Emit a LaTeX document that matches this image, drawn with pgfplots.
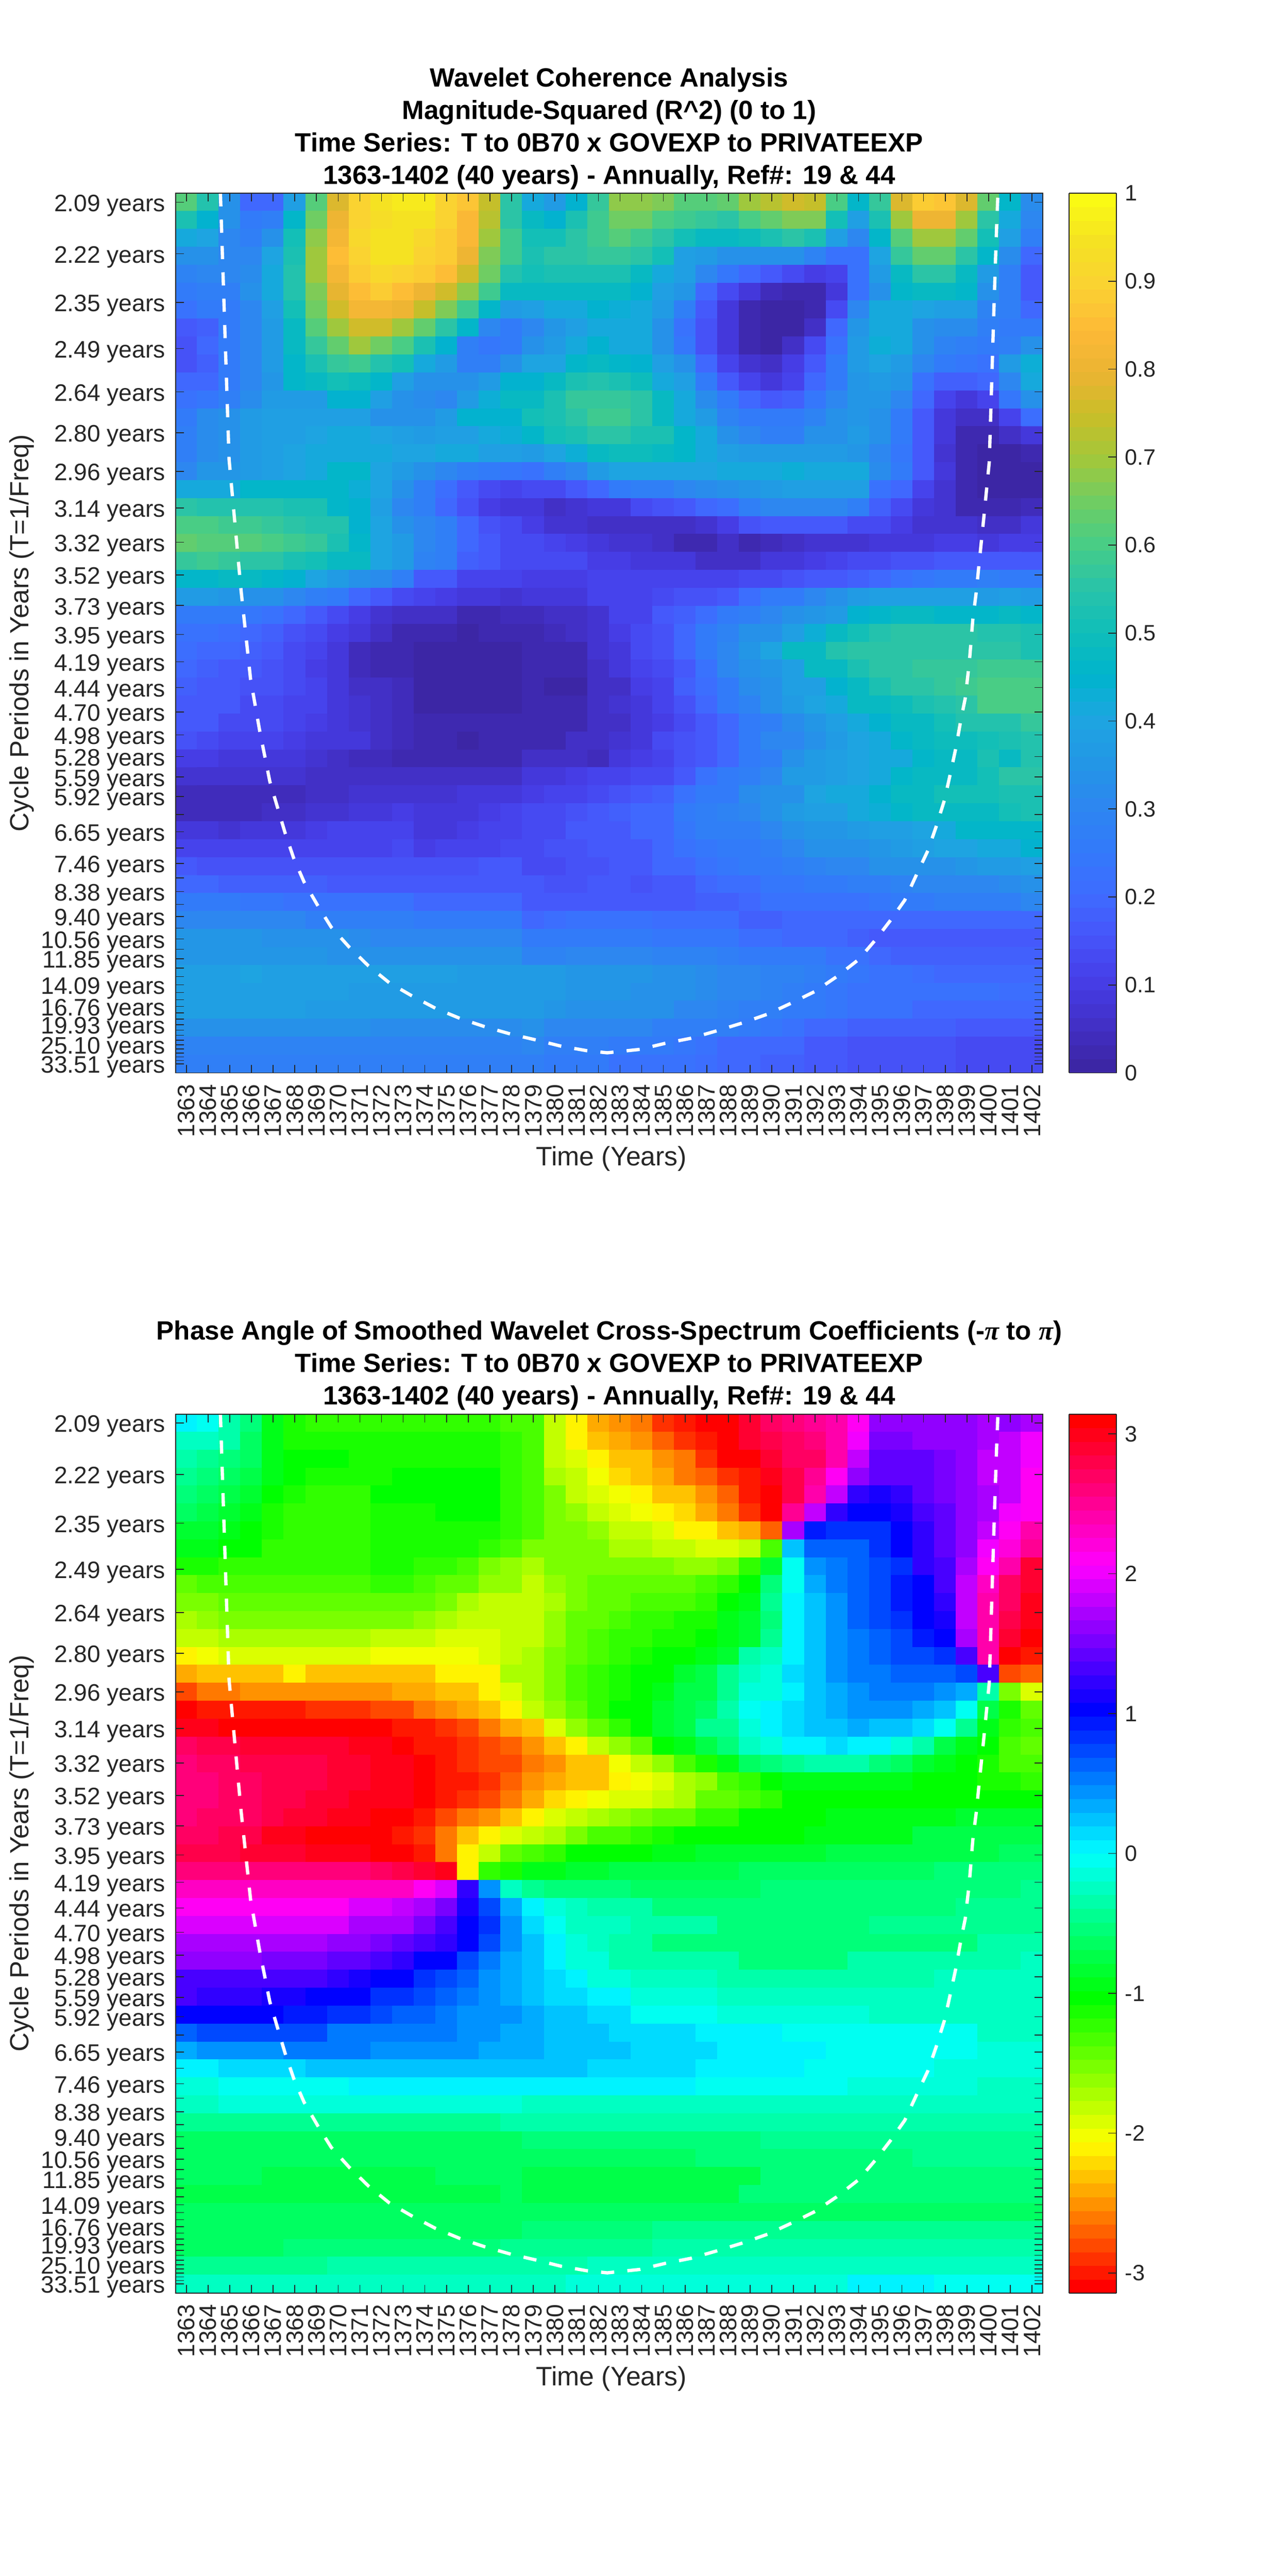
\documentclass[border=0pt]{standalone}
\usepackage{pgfplots}
\pgfplotsset{compat=1.18}
\usepackage{fontspec}
\setmainfont{Liberation Sans}
\newfontfamily\pifont{Liberation Serif}
\definecolor{axc}{RGB}{38,38,38}
\newcount\Rc \newcount\Rr
\def\coords{}
\def\Rput#1{\ifnum\Rc<40 \xdef\coords{\coords (\the\Rc,\the\Rr) [#1]}\gdef\Rlast{#1}\global\advance\Rc by 1 \fi}
\def\Rx#1 {\ifx @#1\else\Rput{#1}\expandafter\Rx\fi}
\def\Rfill{\ifnum\Rc<40 \Rput{\Rlast}\expandafter\Rfill\fi}
\def\R#1{\global\Rc=0 \Rx#1 @ \Rfill\global\advance\Rr by 1\relax}
% --- Magnitude-squared coherence, 49 rows x 40 years
\R{.62 .54 .33 .2 .2 .38 .62 .78 .9 .95 .96 .96 .9 .87 .74 .56 .42 .37 .45 .57 .68 .68 .66 .62 .62 .64 .69 .73 .75 .74 .6 .46 .57 .77 .88 .86 .78 .63 .46 .32}
\R{.53 .45 .33 .25 .27 .46 .65 .81 .9 .93 .95 .94 .9 .83 .72 .56 .47 .45 .53 .58 .65 .65 .6 .59 .57 .56 .6 .63 .67 .66 .51 .39 .52 .7 .8 .8 .7 .56 .42 .3}
\R{.41 .4 .3 .27 .33 .51 .68 .82 .92 .94 .94 .92 .89 .83 .69 .58 .5 .5 .55 .59 .61 .59 .55 .51 .47 .47 .49 .52 .55 .52 .38 .31 .46 .62 .7 .7 .63 .5 .39 .27}
\R{.33 .33 .3 .3 .4 .53 .7 .85 .9 .94 .94 .9 .88 .8 .67 .58 .53 .55 .56 .57 .57 .55 .5 .39 .37 .33 .33 .33 .33 .29 .22 .22 .4 .57 .63 .63 .56 .46 .32 .2}
\R{.29 .3 .3 .32 .41 .54 .7 .82 .89 .92 .9 .89 .85 .75 .65 .54 .5 .52 .52 .52 .52 .47 .41 .38 .3 .24 .2 .17 .13 .1 .12 .22 .37 .48 .56 .56 .47 .37 .28 .17}
\R{.25 .28 .28 .33 .41 .54 .67 .79 .85 .88 .85 .8 .75 .68 .58 .47 .47 .47 .47 .47 .47 .44 .38 .35 .2 .14 .08 .04 .03 .03 .08 .22 .33 .46 .47 .47 .46 .33 .27 .17}
\R{.22 .25 .26 .31 .39 .51 .65 .76 .82 .82 .8 .74 .66 .59 .46 .36 .39 .42 .42 .44 .43 .41 .36 .27 .17 .09 .03 0 0 .03 .14 .3 .42 .42 .4 .38 .38 .29 .27 .2}
\R{.16 .18 .25 .3 .37 .48 .62 .7 .75 .75 .7 .64 .56 .46 .3 .26 .3 .35 .38 .41 .42 .41 .34 .22 .15 .09 .02 0 .01 .06 .2 .35 .42 .42 .33 .32 .32 .28 .25 .25}
\R{.15 .2 .25 .3 .36 .47 .57 .63 .69 .65 .6 .53 .44 .28 .24 .25 .33 .36 .42 .44 .42 .41 .34 .24 .15 .08 .03 .01 .06 .14 .22 .36 .43 .42 .34 .29 .27 .26 .27 .34}
\R{.15 .18 .26 .3 .36 .46 .53 .57 .58 .54 .5 .42 .36 .28 .27 .33 .4 .4 .46 .47 .46 .45 .38 .34 .2 .11 .07 .05 .1 .17 .25 .37 .4 .37 .3 .25 .24 .23 .36 .43}
\R{.19 .2 .26 .3 .35 .46 .47 .51 .49 .46 .38 .34 .33 .33 .37 .44 .44 .47 .53 .54 .52 .49 .42 .38 .26 .17 .11 .09 .12 .2 .26 .35 .37 .35 .23 .18 .18 .19 .31 .42}
\R{.22 .24 .28 .32 .37 .37 .37 .45 .45 .38 .34 .32 .3 .37 .43 .47 .48 .53 .57 .57 .57 .55 .47 .41 .32 .25 .19 .16 .18 .24 .3 .35 .35 .3 .19 .12 .08 .11 .24 .34}
\R{.26 .32 .33 .37 .38 .38 .39 .39 .38 .34 .34 .34 .36 .44 .45 .45 .5 .53 .56 .58 .58 .55 .48 .42 .36 .29 .25 .25 .25 .29 .33 .35 .33 .26 .17 .09 .05 .05 .11 .21}
\R{.27 .32 .33 .37 .39 .39 .4 .42 .41 .4 .38 .36 .38 .38 .42 .43 .46 .5 .53 .55 .55 .53 .52 .46 .42 .34 .31 .28 .28 .33 .33 .36 .33 .26 .16 .09 .03 .02 .05 .09}
\R{.27 .32 .34 .36 .38 .4 .41 .42 .41 .41 .4 .4 .41 .41 .38 .38 .37 .4 .43 .47 .49 .49 .47 .46 .41 .38 .36 .36 .36 .37 .37 .35 .31 .24 .16 .07 .03 .01 0 .02}
\R{.3 .35 .35 .37 .38 .4 .42 .46 .46 .4 .37 .34 .31 .27 .25 .24 .23 .27 .3 .36 .4 .4 .4 .4 .4 .41 .42 .42 .43 .42 .42 .41 .32 .25 .16 .08 .03 0 0 0}
\R{.42 .42 .42 .46 .46 .46 .46 .46 .43 .4 .34 .27 .21 .17 .14 .12 .14 .14 .17 .2 .25 .27 .28 .3 .32 .34 .35 .36 .38 .39 .39 .38 .23 .2 .12 .07 .03 0 0 0}
\R{.56 .54 .54 .54 .54 .53 .53 .46 .45 .39 .3 .27 .2 .15 .1 .08 .08 .05 .07 .08 .09 .13 .15 .17 .2 .21 .27 .3 .31 .31 .3 .27 .18 .13 .09 .07 .03 .03 .03 .04}
\R{.6 .6 .58 .58 .57 .56 .54 .54 .45 .4 .33 .31 .28 .2 .15 .13 .1 .07 .07 .06 .05 .05 .05 .05 .07 .1 .15 .17 .17 .17 .16 .13 .13 .1 .07 .07 .07 .06 .05 .08}
\R{.64 .62 .61 .62 .6 .58 .57 .53 .46 .4 .37 .31 .28 .19 .17 .14 .14 .12 .1 .08 .07 .07 .05 .02 .02 .05 .03 .04 .06 .07 .07 .07 .09 .09 .09 .1 .1 .09 .1 .1}
\R{.57 .58 .57 .56 .55 .52 .5 .47 .47 .4 .36 .29 .27 .18 .17 .14 .14 .13 .13 .1 .1 .09 .09 .08 .06 .06 .06 .08 .09 .1 .11 .13 .14 .15 .15 .16 .17 .17 .17 .17}
\R{.46 .46 .47 .47 .46 .45 .4 .37 .34 .32 .27 .17 .17 .12 .11 .11 .1 .1 .1 .12 .12 .12 .12 .12 .12 .12 .13 .14 .15 .16 .17 .18 .2 .22 .24 .25 .26 .27 .26 .25}
\R{.36 .36 .35 .33 .33 .3 .28 .26 .2 .16 .13 .11 .1 .09 .09 .07 .09 .09 .09 .11 .11 .12 .13 .15 .15 .17 .21 .25 .26 .3 .33 .37 .38 .38 .38 .38 .38 .37 .39 .37}
\R{.26 .26 .25 .24 .22 .2 .16 .13 .1 .07 .06 .05 .05 .03 .03 .04 .04 .06 .05 .07 .11 .12 .16 .18 .21 .25 .28 .3 .34 .35 .36 .44 .46 .47 .47 .46 .46 .46 .47 .46}
\R{.22 .22 .21 .2 .18 .15 .13 .1 .08 .05 .03 .02 .02 .01 .02 .02 .03 .04 .06 .07 .1 .13 .15 .19 .25 .29 .33 .34 .38 .43 .48 .51 .54 .55 .55 .55 .55 .54 .54 .53}
\R{.21 .2 .19 .18 .16 .13 .11 .09 .04 .03 .03 0 0 0 0 0 .02 .03 .03 .07 .09 .13 .15 .19 .25 .3 .35 .4 .47 .48 .54 .56 .56 .56 .56 .56 .56 .56 .56 .52}
\R{.19 .18 .17 .16 .15 .13 .1 .09 .04 .03 .03 0 0 0 0 0 .02 .03 .03 .06 .08 .11 .14 .17 .23 .3 .33 .35 .39 .47 .47 .52 .56 .56 .57 .57 .57 .58 .58 .58}
\R{.18 .17 .16 .15 .15 .14 .11 .09 .06 .05 .04 .01 0 0 0 0 .02 .01 .01 .06 .06 .1 .11 .18 .21 .25 .32 .34 .38 .39 .45 .48 .53 .55 .56 .57 .58 .6 .6 .6}
\R{.17 .17 .16 .14 .13 .12 .11 .09 .07 .05 .04 .01 .01 .01 0 .01 .02 .03 .03 .06 .07 .09 .12 .15 .2 .25 .29 .33 .36 .4 .42 .47 .47 .49 .52 .54 .56 .6 .6 .6}
\R{.17 .16 .14 .14 .13 .12 .1 .08 .07 .05 .04 .03 .02 .02 .02 .02 .02 .03 .03 .05 .06 .08 .1 .13 .17 .2 .25 .28 .32 .35 .39 .41 .45 .47 .47 .5 .54 .54 .54 .57}
\R{.15 .14 .12 .11 .11 .1 .09 .08 .08 .05 .04 .03 .03 .01 .02 .02 .02 .03 .05 .06 .07 .08 .13 .15 .17 .2 .26 .3 .3 .34 .37 .4 .42 .46 .48 .49 .49 .51 .53 .54}
\R{.1 .1 .09 .08 .08 .08 .07 .06 .04 .04 .03 .03 .03 .03 .03 .03 .05 .06 .05 .04 .09 .1 .12 .15 .17 .2 .26 .28 .34 .36 .38 .4 .42 .42 .46 .48 .48 .52 .48 .54}
\R{.07 .07 .07 .07 .07 .07 .06 .05 .05 .06 .06 .06 .06 .05 .06 .06 .08 .09 .1 .11 .12 .13 .14 .17 .22 .25 .28 .3 .36 .36 .38 .4 .42 .46 .47 .47 .47 .5 .55 .55}
\R{.04 .04 .04 .04 .04 .04 .06 .06 .07 .07 .07 .07 .07 .08 .09 .09 .1 .11 .12 .13 .15 .17 .18 .22 .25 .25 .32 .33 .33 .4 .42 .42 .45 .47 .47 .5 .5 .5 .52 .53}
\R{.04 .04 .04 .04 .05 .06 .07 .07 .08 .09 .1 .09 .09 .09 .1 .12 .13 .13 .15 .16 .18 .2 .2 .25 .28 .29 .31 .33 .37 .38 .38 .41 .43 .46 .47 .47 .48 .48 .5 .53}
\R{.08 .08 .07 .09 .09 .09 .1 .11 .12 .12 .12 .09 .09 .1 .11 .12 .13 .14 .16 .17 .17 .19 .2 .24 .27 .27 .28 .3 .33 .35 .35 .37 .38 .38 .4 .42 .46 .46 .46 .46}
\R{.11 .11 .11 .11 .11 .11 .12 .12 .12 .12 .13 .1 .11 .12 .12 .13 .13 .15 .15 .17 .17 .17 .2 .22 .24 .25 .26 .27 .31 .33 .33 .34 .35 .36 .38 .4 .4 .41 .42 .45}
\R{.17 .15 .15 .15 .15 .15 .15 .15 .15 .15 .15 .15 .15 .15 .16 .16 .13 .14 .15 .15 .17 .17 .19 .2 .23 .24 .25 .26 .27 .29 .3 .31 .33 .33 .34 .34 .35 .37 .37 .39}
\R{.2 .2 .18 .18 .18 .18 .18 .17 .17 .16 .16 .16 .16 .16 .16 .16 .17 .15 .15 .16 .16 .15 .16 .17 .2 .21 .21 .24 .24 .26 .26 .27 .27 .29 .3 .3 .31 .31 .32 .33}
\R{.25 .25 .25 .24 .24 .23 .22 .22 .22 .22 .22 .2 .2 .2 .2 .2 .17 .16 .16 .16 .17 .17 .17 .17 .18 .18 .2 .22 .22 .22 .23 .23 .24 .25 .26 .27 .27 .27 .28 .3}
\R{.3 .3 .3 .3 .3 .3 .28 .28 .28 .27 .27 .26 .26 .26 .26 .25 .2 .21 .22 .22 .22 .22 .21 .21 .21 .21 .18 .18 .19 .19 .19 .2 .2 .2 .2 .2 .2 .2 .2 .2}
\R{.35 .35 .35 .35 .34 .34 .33 .33 .32 .3 .3 .3 .3 .3 .3 .3 .25 .25 .26 .26 .26 .25 .24 .24 .24 .24 .21 .21 .2 .2 .19 .18 .17 .17 .17 .17 .17 .17 .17 .17}
\R{.35 .35 .35 .35 .35 .35 .35 .34 .34 .33 .33 .33 .33 .33 .33 .33 .29 .29 .3 .3 .3 .3 .29 .29 .29 .27 .26 .25 .25 .25 .23 .22 .19 .18 .18 .18 .18 .18 .18 .18}
\R{.39 .39 .39 .4 .39 .39 .39 .39 .38 .38 .38 .38 .38 .37 .37 .37 .37 .36 .35 .35 .35 .35 .33 .33 .32 .3 .3 .29 .29 .27 .25 .24 .22 .22 .21 .2 .19 .19 .19 .19}
\R{.38 .38 .38 .38 .38 .38 .38 .38 .37 .37 .37 .37 .37 .37 .37 .37 .37 .36 .35 .35 .35 .34 .33 .33 .32 .3 .3 .29 .27 .25 .24 .23 .23 .23 .23 .22 .22 .22 .21 .21}
\R{.38 .38 .38 .38 .38 .38 .37 .37 .37 .37 .37 .37 .37 .37 .37 .37 .37 .35 .34 .34 .34 .33 .33 .3 .3 .29 .28 .27 .26 .25 .24 .23 .22 .22 .2 .2 .2 .2 .19 .19}
\R{.33 .33 .33 .33 .33 .33 .33 .33 .33 .32 .32 .32 .32 .32 .32 .32 .33 .31 .31 .31 .3 .3 .28 .28 .28 .27 .26 .24 .23 .2 .2 .18 .18 .18 .18 .18 .17 .17 .17 .17}
\R{.29 .29 .29 .29 .29 .29 .29 .29 .29 .29 .29 .29 .29 .29 .29 .29 .3 .28 .27 .27 .26 .26 .25 .24 .22 .2 .2 .19 .19 .17 .16 .15 .15 .15 .15 .15 .14 .13 .13 .13}
\R{.27 .27 .27 .27 .27 .27 .27 .27 .27 .27 .27 .27 .27 .27 .27 .27 .27 .26 .25 .25 .23 .23 .22 .22 .21 .2 .19 .18 .18 .17 .16 .15 .15 .15 .15 .15 .14 .14 .14 .14}
\global\let\coordsA\coords
\gdef\coords{}\global\Rr=0
% --- Phase angle, 49 rows x 40 years
\R{0 -.05 -.3 -.5 -.9 -1.1 -1.2 -1.2 -1.2 -1.2 -1.2 -1.2 -1.2 -1.2 -1.2 -1.3 -1.35 -1.85 -2.15 -2.42 -2.55 -2.65 -2.85 -2.95 -3.14 3.05 2.85 2.72 2.62 2.55 2.45 2.1 1.65 1.58 1.58 1.58 1.65 1.68 1.65 1.7}
\R{-.2 -.25 -.3 -.6 -.9 -1.1 -1.15 -1.12 -1.12 -1.12 -1.12 -1.12 -1.12 -1.12 -1.12 -1.2 -1.35 -1.85 -2.1 -2.3 -2.45 -2.55 -2.68 -2.85 -2.98 3.14 2.9 2.8 2.65 2.6 2.42 2 1.55 1.5 1.58 1.58 1.65 1.72 1.8 2}
\R{-.35 -.4 -.5 -.6 -.9 -1 -1.05 -1.05 -1.1 -1.1 -1.1 -1.1 -1.1 -1.1 -1.1 -1.2 -1.35 -1.8 -1.95 -2.15 -2.28 -2.35 -2.55 -2.65 -2.85 -3.05 3.05 2.9 2.7 2.68 2.4 1.85 1.45 1.45 1.45 1.52 1.6 1.78 1.85 2}
\R{-.45 -.5 -.6 -.75 -.95 -1.05 -1.1 -1.15 -1.15 -1.1 -1.05 -1.05 -1.05 -1.05 -1.05 -1.2 -1.35 -1.7 -1.85 -1.97 -2.18 -2.28 -2.4 -2.6 -2.7 -2.85 -3 2.95 2.75 2.55 2.1 1.65 1.4 1.4 1.4 1.52 1.6 1.78 1.85 2.1}
\R{-.55 -.65 -.7 -.85 -1.05 -1.15 -1.2 -1.2 -1.2 -1.05 -1.05 -1.05 -1.05 -1.05 -1.05 -1.2 -1.35 -1.55 -1.8 -1.9 -2 -2.1 -2.28 -2.35 -2.55 -2.72 -2.95 3.1 2.8 2.4 1.85 1.25 1.15 1.25 1.4 1.52 1.6 1.75 1.85 2.1}
\R{-.6 -.75 -.85 -.95 -1.15 -1.2 -1.2 -1.2 -1.2 -1.15 -1.1 -1.1 -1.05 -1.05 -1.08 -1.25 -1.3 -1.5 -1.65 -1.8 -1.9 -2 -2.1 -2.25 -2.4 -2.6 -2.85 -3.14 2.5 1.8 1.2 1.05 1.05 1.15 1.35 1.45 1.62 1.75 2 2.1}
\R{-.8 -.85 -.9 -1 -1.15 -1.2 -1.2 -1.2 -1.2 -1.15 -1.1 -1.1 -1.1 -1.1 -1.12 -1.25 -1.35 -1.55 -1.55 -1.65 -1.8 -1.85 -1.95 -2.08 -2.15 -2.3 -2.4 -2.7 1.7 .9 .8 .8 .85 1 1.25 1.45 1.62 1.85 2.1 2.4}
\R{-.95 -.95 -1 -1.05 -1.2 -1.2 -1.2 -1.2 -1.2 -1.1 -1.1 -1.1 -1.1 -1.12 -1.2 -1.35 -1.55 -1.55 -1.55 -1.55 -1.7 -1.7 -1.8 -1.85 -1.88 -1.88 -1.8 -1.3 .2 .6 .65 .65 .85 1 1.2 1.45 1.65 2 2.2 2.5}
\R{-1.15 -1.1 -1.25 -1.25 -1.25 -1.25 -1.25 -1.25 -1.25 -1.15 -1.15 -1.18 -1.25 -1.35 -1.5 -1.6 -1.75 -1.55 -1.55 -1.55 -1.55 -1.55 -1.55 -1.6 -1.6 -1.5 -1.25 -.8 -.05 .4 .55 .62 .75 .88 1.2 1.35 1.75 2.1 2.45 2.85}
\R{-1.4 -1.35 -1.3 -1.3 -1.3 -1.3 -1.3 -1.3 -1.3 -1.2 -1.2 -1.3 -1.4 -1.45 -1.65 -1.65 -1.8 -1.65 -1.55 -1.4 -1.4 -1.4 -1.4 -1.4 -1.3 -1.2 -1.05 -.55 -.05 .35 .55 .62 .78 .95 1.05 1.35 1.85 2.35 2.65 2.9}
\R{-1.55 -1.5 -1.4 -1.4 -1.4 -1.4 -1.4 -1.4 -1.4 -1.4 -1.4 -1.45 -1.55 -1.75 -1.85 -1.85 -1.8 -1.7 -1.5 -1.4 -1.4 -1.3 -1.3 -1.3 -1.2 -1.05 -.9 -.45 0 .2 .4 .62 .72 .95 1.05 1.2 1.85 2.4 2.65 3}
\R{-1.7 -1.65 -1.55 -1.5 -1.5 -1.5 -1.5 -1.5 -1.5 -1.55 -1.55 -1.65 -1.7 -1.8 -1.85 -1.85 -1.8 -1.65 -1.4 -1.4 -1.3 -1.25 -1.25 -1.15 -1.1 -.95 -.85 -.5 0 .2 .4 .62 .72 .85 1.05 1.15 1.85 2.45 2.75 2.95}
\R{-1.85 -1.8 -1.7 -1.7 -1.7 -1.7 -1.7 -1.75 -1.75 -1.85 -1.85 -1.85 -1.95 -1.95 -1.95 -1.8 -1.8 -1.6 -1.4 -1.3 -1.25 -1.2 -1.15 -1.1 -1.08 -.95 -.85 -.4 0 .2 .4 .55 .65 .78 .9 1.05 1.7 2.45 2.9 3.14}
\R{-2.15 -2 -1.95 -1.95 -1.95 -1.95 -1.95 -1.95 -1.95 -2.05 -2.05 -2.05 -2.05 -2.05 -1.95 -1.85 -1.75 -1.55 -1.4 -1.3 -1.25 -1.15 -1.05 -1.05 -.9 -.85 -.35 -.2 0 .2 .4 .5 .65 .72 .72 .85 1.3 2.45 3.05 -3}
\R{-2.45 -2.27 -2.27 -2.27 -2.27 -2.15 -2.27 -2.27 -2.27 -2.27 -2.27 -2.27 -2.15 -2.15 -2.08 -1.75 -1.75 -1.55 -1.35 -1.25 -1.15 -1.08 -1 -.85 -.75 -.45 -.25 -.12 .1 .2 .42 .52 .52 .65 .65 .65 .72 1.35 -2.8 -2.7}
\R{-2.75 -2.6 -2.6 -2.55 -2.55 -2.55 -2.55 -2.55 -2.55 -2.55 -2.45 -2.45 -2.35 -2.3 -2.15 -1.95 -1.75 -1.5 -1.35 -1.25 -1.1 -1.05 -.95 -.75 -.7 -.4 -.15 -.1 .08 .2 .32 .45 .5 .5 .5 .45 .3 -.35 -1.5 -1.95}
\R{-3.14 -3 -3 -2.95 -2.95 -2.95 -2.85 -2.85 -2.85 -2.75 -2.75 -2.65 -2.55 -2.45 -2.35 -2.1 -1.85 -1.65 -1.4 -1.2 -1.05 -1 -.85 -.72 -.65 -.35 -.05 0 .12 .22 .35 .45 .42 .42 .35 .22 -.05 -.75 -1.1 -1.45}
\R{2.95 2.98 3.05 3.1 3.1 3.12 3.14 3.14 -3.05 -3.05 -3 -3 -2.85 -2.75 -2.65 -2.45 -2.3 -1.95 -1.65 -1.42 -1.2 -1.05 -.85 -.7 -.45 -.4 -.1 0 .12 .2 .2 .3 .2 .2 .12 -.05 -.4 -.9 -1.2 -1.35}
\R{2.72 2.75 2.78 2.85 2.85 2.92 2.92 2.92 2.98 2.98 3.1 -3 -3 -2.9 -2.8 -2.7 -2.55 -2.35 -2.1 -1.85 -1.65 -1.4 -1.05 -.9 -.7 -.5 -.25 -.15 0 0 .1 0 0 -.1 -.3 -.7 -.9 -1.05 -1.3 -1.45}
\R{2.62 2.68 2.72 2.76 2.8 2.8 2.8 2.85 2.9 2.95 2.95 3.1 -3 -2.9 -2.8 -2.75 -2.65 -2.55 -2.35 -2.28 -2.05 -1.85 -1.65 -1.35 -1.1 -.9 -.6 -.55 -.4 -.3 -.35 -.35 -.5 -.6 -.85 -.95 -1.05 -1.15 -1.3 -1.35}
\R{2.58 2.62 2.66 2.72 2.8 2.8 2.8 2.88 2.93 2.95 3 3.1 -3 -2.95 -2.85 -2.7 -2.55 -2.45 -2.35 -2.27 -2.15 -2 -1.95 -1.7 -1.6 -1.35 -1.18 -1.05 -.95 -.95 -.95 -.95 -.95 -.95 -1 -1 -1.05 -1.15 -1.15 -1.18}
\R{2.58 2.6 2.66 2.72 2.8 2.8 2.85 2.93 2.95 2.96 3 3.1 -3 -2.9 -2.75 -2.6 -2.42 -2.25 -2.15 -2.05 -1.95 -1.88 -1.8 -1.7 -1.45 -1.4 -1.3 -1.2 -1.05 -1.05 -1 -1 -1 -1 -1 -1 -1 -1 -1.05 -1.05}
\R{2.58 2.66 2.68 2.72 2.8 2.85 2.9 2.95 3 3.1 -3.05 -2.95 -2.8 -2.65 -2.5 -2.3 -2.15 -1.95 -1.85 -1.75 -1.6 -1.55 -1.45 -1.4 -1.25 -1.2 -1.05 -1.05 -1.02 -1 -.95 -.95 -.95 -.9 -.9 -.9 -.88 -.88 -.85 -.85}
\R{2.72 2.72 2.8 2.8 2.98 2.98 3.05 3.05 3.05 3.14 -2.95 -2.85 -2.65 -2.35 -2.12 -1.95 -1.8 -1.7 -1.5 -1.35 -1.3 -1.25 -1.15 -1.07 -1.05 -1.05 -1.05 -1 -1 -.9 -.9 -.9 -.9 -.9 -.75 -.75 -.75 -.75 -.72 -.72}
\R{2.8 2.8 2.8 2.85 2.88 2.9 3 3 3 3.05 3.14 -2.95 -2.65 -2.15 -1.8 -1.45 -1.35 -1.2 -1.05 -1 -1 -1 -.9 -.9 -.85 -.85 -.85 -.8 -.8 -.8 -.75 -.75 -.75 -.7 -.7 -.7 -.7 -.7 -.68 -.68}
\R{2.62 2.62 2.62 2.62 2.62 2.62 2.62 2.62 2.62 2.65 2.78 2.85 3 -2.15 -1.2 -1.1 -.95 -.9 -.88 -.88 -.75 -.75 -.75 -.75 -.75 -.72 -.65 -.65 -.65 -.65 -.65 -.65 -.65 -.65 -.65 -.58 -.58 -.58 -.58 -.58}
\R{2.28 2.28 2.28 2.28 2.28 2.28 2.28 2.28 2.28 2.28 2.28 2.1 1.9 1.25 .4 -.2 -.4 -.5 -.5 -.5 -.5 -.62 -.62 -.62 -.62 -.62 -.62 -.52 -.52 -.52 -.52 -.52 -.52 -.52 -.52 -.52 -.52 -.52 -.52 -.42}
\R{2.1 2.1 2.1 2.1 2.1 2.1 2.1 2.1 1.92 1.92 1.8 1.7 1.48 1.15 .75 .38 0 -.15 -.25 -.35 -.35 -.35 -.58 -.58 -.58 -.58 -.58 -.58 -.58 -.58 -.58 -.58 -.58 -.58 -.58 -.58 -.47 -.47 -.47 -.47}
\R{1.88 1.88 1.88 1.88 1.88 1.88 1.88 1.88 1.75 1.75 1.7 1.55 1.35 1.05 .85 .45 .1 -.08 -.22 -.27 -.27 -.38 -.38 -.38 -.38 -.55 -.55 -.55 -.55 -.55 -.55 -.55 -.42 -.42 -.42 -.42 -.42 -.42 -.42 -.42}
\R{1.75 1.75 1.75 1.75 1.75 1.75 1.75 1.65 1.62 1.52 1.45 1.35 1.18 1.05 .75 .45 .22 0 -.1 -.27 -.35 -.35 -.5 -.5 -.5 -.5 -.5 -.5 -.5 -.5 -.5 -.5 -.5 -.5 -.5 -.5 -.5 -.38 -.38 -.38}
\R{1.6 1.6 1.6 1.6 1.55 1.55 1.55 1.42 1.42 1.3 1.25 1.05 1 .75 .55 .35 .25 0 -.15 -.15 -.32 -.32 -.38 -.38 -.38 -.38 -.5 -.5 -.5 -.5 -.5 -.35 -.35 -.35 -.35 -.35 -.35 -.35 -.35 -.2}
\R{1.35 1.35 1.35 1.35 1.35 1.3 1.3 1.2 1.15 1.05 1 .85 .7 .6 .45 .32 .25 .1 0 -.15 -.15 -.28 -.28 -.28 -.28 -.35 -.35 -.35 -.35 -.35 -.35 -.35 -.35 -.35 -.35 -.2 -.2 -.2 -.2 -.2}
\R{1.3 1.2 1.2 1.2 1.15 1.15 1.05 1 1 .88 .82 .75 .62 .52 .45 .35 .28 .12 .12 0 0 -.15 -.15 -.15 -.15 -.22 -.22 -.22 -.22 -.22 -.22 -.22 -.22 -.22 -.22 -.22 -.22 -.22 -.22 -.22}
\R{1.03 1.03 1.03 1.03 1.03 .9 .9 .82 .82 .72 .65 .65 .55 .45 .45 .42 .35 .27 .27 .17 .17 -.03 -.03 -.03 -.03 -.13 -.13 -.13 -.13 -.13 -.13 -.13 -.2 -.2 -.2 -.2 -.2 -.2 -.2 -.2}
\R{.62 .72 .72 .72 .72 .72 .72 .58 .58 .58 .5 .5 .5 .42 .42 .38 .35 .25 .25 .25 .1 .1 .1 .1 0 0 0 0 -.05 -.05 -.05 -.05 -.05 -.05 -.05 -.05 -.05 -.2 -.2 -.2}
\R{.37 .42 .42 .42 .42 .5 .5 .5 .5 .45 .45 .45 .45 .45 .33 .33 .35 .22 .22 .22 .22 .1 .1 .1 .1 0 0 0 0 0 -.05 -.05 -.05 -.05 -.05 -.05 -.05 -.18 -.18 -.18}
\R{.05 .05 .15 .15 .15 .15 .28 .28 .28 .28 .28 .28 .28 .22 .22 .22 .22 .22 .22 .1 .1 .1 .1 .1 0 0 0 0 0 -.07 -.07 -.07 -.07 -.07 -.07 -.18 -.18 -.18 -.18 -.18}
\R{-.18 -.18 -.03 -.03 -.03 -.03 -.03 -.03 .05 .05 .05 .05 .05 .05 .05 .05 0 0 0 0 0 0 0 0 -.08 -.08 -.08 -.08 -.08 -.08 -.08 -.18 -.18 -.18 -.18 -.18 -.18 -.27 -.27 -.27}
\R{-.2 -.2 -.15 -.15 -.15 -.15 -.15 -.15 -.15 -.15 -.15 -.15 -.15 -.15 -.15 -.15 -.2 -.2 -.2 -.2 -.2 -.2 -.2 -.2 -.2 -.2 -.2 -.2 -.2 -.2 -.2 -.2 -.27 -.27 -.27 -.27 -.27 -.27 -.27 -.27}
\R{-.42 -.42 -.42 -.42 -.42 -.42 -.42 -.42 -.42 -.42 -.42 -.42 -.42 -.42 -.42 -.38 -.35 -.35 -.35 -.35 -.35 -.35 -.35 -.35 -.35 -.35 -.3 -.3 -.3 -.3 -.3 -.3 -.3 -.3 -.3 -.3 -.3 -.3 -.3 -.3}
\R{-.65 -.65 -.65 -.65 -.65 -.65 -.65 -.65 -.65 -.65 -.65 -.65 -.65 -.65 -.65 -.6 -.52 -.52 -.52 -.52 -.52 -.52 -.52 -.52 -.52 -.52 -.52 -.45 -.45 -.45 -.45 -.45 -.45 -.45 -.45 -.45 -.45 -.45 -.45 -.45}
\R{-.68 -.68 -.68 -.68 -.68 -.68 -.68 -.68 -.68 -.68 -.68 -.68 -.68 -.68 -.68 -.65 -.62 -.62 -.62 -.62 -.62 -.62 -.62 -.62 -.52 -.52 -.52 -.52 -.52 -.52 -.52 -.52 -.52 -.52 -.45 -.45 -.45 -.45 -.45 -.45}
\R{-.68 -.68 -.68 -.68 -.78 -.78 -.78 -.78 -.78 -.78 -.78 -.7 -.68 -.68 -.68 -.65 -.72 -.72 -.72 -.72 -.72 -.72 -.72 -.72 -.72 -.72 -.72 -.58 -.58 -.58 -.58 -.58 -.58 -.58 -.58 -.58 -.58 -.58 -.58 -.58}
\R{-.7 -.7 -.7 -.7 -.7 -.7 -.7 -.7 -.7 -.7 -.7 -.7 -.7 -.7 -.7 -.68 -.7 -.7 -.7 -.7 -.7 -.7 -.7 -.7 -.7 -.7 -.58 -.58 -.58 -.58 -.58 -.58 -.58 -.58 -.58 -.58 -.58 -.58 -.58 -.58}
\R{-.68 -.68 -.68 -.68 -.68 -.68 -.68 -.68 -.68 -.68 -.68 -.68 -.68 -.68 -.68 -.64 -.6 -.6 -.6 -.6 -.6 -.6 -.6 -.6 -.6 -.6 -.6 -.6 -.6 -.6 -.6 -.6 -.6 -.6 -.6 -.6 -.6 -.6 -.6 -.6}
\R{-.66 -.66 -.66 -.66 -.66 -.66 -.66 -.66 -.66 -.66 -.66 -.66 -.66 -.66 -.66 -.62 -.55 -.55 -.55 -.55 -.55 -.55 -.45 -.45 -.45 -.45 -.45 -.45 -.45 -.45 -.45 -.45 -.45 -.45 -.45 -.45 -.45 -.45 -.45 -.45}
\R{-.62 -.62 -.62 -.62 -.62 -.5 -.5 -.5 -.5 -.5 -.5 -.5 -.5 -.5 -.5 -.48 -.45 -.45 -.45 -.45 -.45 -.45 -.32 -.32 -.32 -.32 -.32 -.32 -.32 -.32 -.32 -.32 -.32 -.32 -.32 -.32 -.32 -.32 -.32 -.32}
\R{-.4 -.4 -.4 -.4 -.4 -.4 -.4 -.33 -.33 -.33 -.33 -.33 -.33 -.33 -.33 -.33 -.32 -.32 -.32 -.28 -.28 -.28 -.28 -.28 -.28 -.28 -.28 -.28 -.28 -.28 -.28 -.28 -.28 -.28 -.28 -.28 -.28 -.28 -.28 -.28}
\R{-.27 -.27 -.27 -.27 -.27 -.27 -.27 -.25 -.25 -.25 -.22 -.22 -.22 -.22 -.22 -.22 -.22 -.22 -.15 -.15 -.15 -.15 -.15 -.15 -.15 -.15 -.15 -.15 -.15 -.15 -.15 0 0 0 0 -.08 -.08 -.08 -.08 -.08}
\global\let\coordsB\coords
\pgfplotsset{
 colormap={wcbase}{rgb255=(60,38,165) rgb255=(66,48,200) rgb255=(70,62,232) rgb255=(70,85,250) rgb255=(62,108,255) rgb255=(50,122,250) rgb255=(45,135,240) rgb255=(35,150,230) rgb255=(30,165,225) rgb255=(0,180,205) rgb255=(15,190,185) rgb255=(40,195,170) rgb255=(70,205,135) rgb255=(110,205,100) rgb255=(160,200,60) rgb255=(200,190,40) rgb255=(235,180,50) rgb255=(253,185,55) rgb255=(250,210,50) rgb255=(245,225,35) rgb255=(250,250,20)},
 colormap={wcmap}{samples of colormap=(64 of wcbase)},
 colormap={phbase}{rgb255=(255,0,0) rgb255=(255,255,0) rgb255=(0,255,0) rgb255=(0,255,255) rgb255=(0,0,255) rgb255=(255,0,255) rgb255=(255,0,0)},
 colormap={phmap}{samples of colormap=(64 of phbase)},
 wv/.style={scale only axis,width=526.25bp,
  xmin=-.5,xmax=39.5,ymin=-.5,ymax=48.5,y dir=reverse,axis on top,
  tick align=inside,major tick length=5bp,
  tick style={color=axc,line width=.5bp},axis line style={color=axc,line width=.6bp},
  xtick={0,...,39},
  xticklabels={1363,1364,1365,1366,1367,1368,1369,1370,1371,1372,1373,1374,1375,1376,1377,1378,1379,1380,1381,1382,1383,1384,1385,1386,1387,1388,1389,1390,1391,1392,1393,1394,1395,1396,1397,1398,1399,1400,1401,1402},
  ytick={0,2.874,5.586,8.146,10.563,12.843,14.996,17.028,18.946,20.756,22.465,24.077,25.6,27.037,28.392,29.673,30.881,32.021,33.098,34.113,35.073,35.978,36.833,37.639,38.4,39.118,39.797,40.437,41.041,41.611,42.15,42.657,43.136,43.589,44.017,44.42,44.801,45.16,45.499,45.818,46.121,46.406,46.675,46.929,47.168,47.394,47.608,47.809,48},
  yticklabels={2.09 years,2.22 years,2.35 years,2.49 years,2.64 years,2.80 years,2.96 years,3.14 years,3.32 years,3.52 years,3.73 years,3.95 years,4.19 years,4.44 years,4.70 years,4.98 years,5.28 years,5.59 years,5.92 years,,6.65 years,,7.46 years,,8.38 years,,9.40 years,,10.56 years,,11.85 years,,,14.09 years,,,16.76 years,,,19.93 years,,,,25.10 years,,,,,33.51 years},
  tick label style={font=\fontsize{14.45bp}{16bp}\selectfont,color=axc},
  xticklabel style={yshift=-6.75bp,rotate=90,anchor=east,inner sep=0pt},
  yticklabel style={inner sep=0pt,xshift=-6bp,yshift=-.5bp,text depth=0pt},
  xlabel={Time (Years)},ylabel={Cycle Periods in Years (T=1/Freq)},
  xlabel style={font=\fontsize{16.2bp}{18bp}\selectfont,color=axc,at={(axis description cs:.5026,-.0974)},anchor=center},
  ylabel style={font=\fontsize{16bp}{18bp}\selectfont,color=axc,at={(axis description cs:-.177,.5)},anchor=center},
  title style={font=\fontsize{16bp}{19.7bp}\selectfont\bfseries,align=center,at={(axis description cs:.5,1)},anchor=south,yshift=-7.25bp},
  colormap access=piecewise constant,
  colorbar,
 },
 cbcommon/.style={at={(parent axis.south east)},anchor=south west,width=29bp,xshift=7.25bp,tick align=inside,major tick length=5bp,
  tick style={color=axc,line width=.5bp},axis line style={color=axc,line width=.6bp},
  ytick pos=right,yticklabel pos=right,
  yticklabel style={font=\fontsize{13.5bp}{15bp}\selectfont,color=axc,inner sep=0pt,xshift=5bp}},
}
\def\plotmat#1#2{\addplot[matrix plot*,mesh/rows=49,mesh/cols=40,point meta=explicit] coordinates {#2};}
\begin{document}
\begin{tikzpicture}
\useasboundingbox (0,0) rectangle (781.25bp,1563bp);
\begin{axis}[wv,at={(106.5bp,912bp)},anchor=south west,height=533.75bp,
  colormap name=wcmap,point meta min=0,point meta max=1,
  colorbar style={cbcommon,ytick={0,.1,.2,.3,.4,.5,.6,.7,.8,.9,1},yticklabels={0,0.1,0.2,0.3,0.4,0.5,0.6,0.7,0.8,0.9,1}},
  title={Wavelet Coherence Analysis\\Magnitude-Squared (R\textasciicircum 2) (0 to 1)\\Time Series: T to 0B70 x GOVEXP to PRIVATEEXP\\1363-1402 (40 years) - Annually, Ref\#: 19 \& 44}]
\expandafter\plotmat\expandafter{\expandafter}\expandafter{\coordsA}
\addplot[white,line width=2bp,dash pattern=on 8bp off 8bp,no marks] coordinates {(1.57,-.5)(1.97,14.33)(2.52,21.6)(2.96,26.56)(3.38,29.43)(3.85,32.27)(4.55,35.12)(4.95,36.54)(5.43,37.87)(6.06,39.18)(6.68,40.38)(7.5,41.48)(8.39,42.53)(9.36,43.48)(10.39,44.2)(11.49,44.9)(12.59,45.45)(13.77,45.93)(14.97,46.34)(16.11,46.66)(17.28,47.01)(18.46,47.26)(19.41,47.38)(20.91,47.19)(22.09,46.85)(23.27,46.57)(24.45,46.16)(25.64,45.72)(26.82,45.22)(27.92,44.6)(28.99,43.96)(29.98,43.15)(31,42.19)(31.78,41.09)(32.48,39.99)(33.13,38.88)(33.68,37.44)(34.2,36.11)(34.58,34.78)(34.96,33.31)(35.2,32.02)(35.49,30.39)(35.72,28.83)(35.92,27.64)(36.11,25.62)(36.27,23.25)(36.44,21.6)(36.53,20.48)(36.78,17.54)(37.03,14.46)(37.14,10.06)(37.25,5.67)(37.37,1.29)(37.43,-.5)};
\end{axis}
\begin{axis}[wv,at={(106.5bp,171.75bp)},anchor=south west,height=533.25bp,
  colormap name=phmap,point meta min=-3.14159,point meta max=3.14159,
  colorbar style={cbcommon,ytick={-3,-2,-1,0,1,2,3},yticklabels={-3,-2,-1,0,1,2,3}},
  title={Phase Angle of Smoothed Wavelet Cross-Spectrum Coefficients (-{\pifont\itshape π} to {\pifont\itshape π})\\Time Series: T to 0B70 x GOVEXP to PRIVATEEXP\\1363-1402 (40 years) - Annually, Ref\#: 19 \& 44}]
\expandafter\plotmat\expandafter{\expandafter}\expandafter{\coordsB}
\addplot[white,line width=2bp,dash pattern=on 8bp off 8bp,no marks] coordinates {(1.57,-.5)(1.97,14.33)(2.52,21.6)(2.96,26.56)(3.38,29.43)(3.85,32.27)(4.55,35.12)(4.95,36.54)(5.43,37.87)(6.06,39.18)(6.68,40.38)(7.5,41.48)(8.39,42.53)(9.36,43.48)(10.39,44.2)(11.49,44.9)(12.59,45.45)(13.77,45.93)(14.97,46.34)(16.11,46.66)(17.28,47.01)(18.46,47.26)(19.41,47.38)(20.91,47.19)(22.09,46.85)(23.27,46.57)(24.45,46.16)(25.64,45.72)(26.82,45.22)(27.92,44.6)(28.99,43.96)(29.98,43.15)(31,42.19)(31.78,41.09)(32.48,39.99)(33.13,38.88)(33.68,37.44)(34.2,36.11)(34.58,34.78)(34.96,33.31)(35.2,32.02)(35.49,30.39)(35.72,28.83)(35.92,27.64)(36.11,25.62)(36.27,23.25)(36.44,21.6)(36.53,20.48)(36.78,17.54)(37.03,14.46)(37.14,10.06)(37.25,5.67)(37.37,1.29)(37.43,-.5)};
\end{axis}
\end{tikzpicture}
\end{document}
